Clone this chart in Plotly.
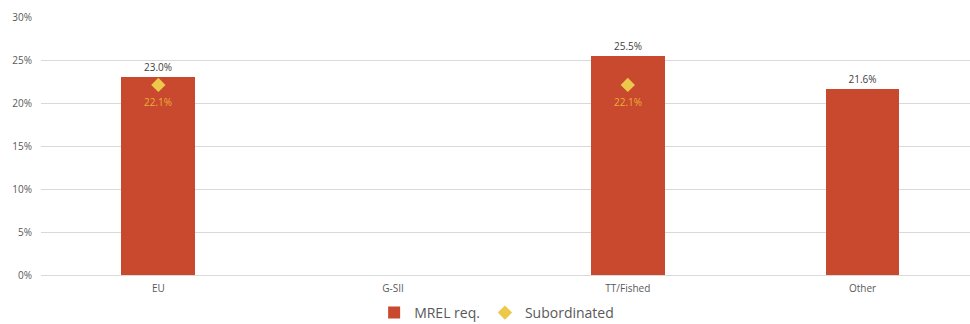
import plotly.graph_objects as go

categories = ["EU", "G-SII", "TT/Fished", "Other"]
mrel_req = [0.230, None, 0.255, 0.216]
subordinated = [0.221, None, 0.221, None]

FONT = "Open Sans"
TEXT_GREY = "#595959"
BAR_RED = "#C8492D"
DIAMOND_YELLOW = "#EDC94B"
LABEL_ORANGE = "#EDAE3A"

fig = go.Figure()

fig.add_trace(go.Bar(
    x=categories,
    y=mrel_req,
    name="MREL req.",
    marker=dict(color=BAR_RED, line=dict(width=0)),
    width=0.315,
    text=[None if v is None else f"{v*100:.1f}%" for v in mrel_req],
    textposition="outside",
    textfont=dict(family=FONT, size=10, color="#404040"),
    cliponaxis=False,
))

fig.add_trace(go.Scatter(
    x=categories,
    y=subordinated,
    name="Subordinated",
    mode="markers",
    marker=dict(symbol="diamond", size=11, color=DIAMOND_YELLOW),
))

# value labels beneath the subordinated diamonds
for cat, v in zip(categories, subordinated):
    if v is None:
        continue
    fig.add_annotation(
        x=cat, y=v, text=f"{v*100:.1f}%",
        showarrow=False, yshift=-17,
        font=dict(family=FONT, size=10, color=LABEL_ORANGE),
    )

fig.update_layout(
    width=970,
    height=324,
    margin=dict(l=41, r=0, t=17, b=49, autoexpand=False),
    plot_bgcolor="white",
    paper_bgcolor="white",
    font=dict(family=FONT, size=10, color=TEXT_GREY),
    showlegend=True,
    legend=dict(
        orientation="h",
        x=0.512, xref="container", xanchor="center",
        y=11 / 324, yref="container", yanchor="middle",
        font=dict(family=FONT, size=14, color=TEXT_GREY),
        itemwidth=30,
        tracegroupgap=0,
    ),
    bargap=0,
)

fig.update_xaxes(
    type="category",
    range=[-0.5, 3.458],
    showgrid=False,
    showline=False,
    ticks="",
    ticklabelstandoff=6,
    tickfont=dict(family=FONT, size=10, color=TEXT_GREY),
)

fig.update_yaxes(
    range=[0, 0.30],
    dtick=0.05,
    tickformat=".0%",
    showgrid=True,
    gridcolor="#D9D9D9",
    gridwidth=1,
    zeroline=True,
    zerolinecolor="#D9D9D9",
    zerolinewidth=1,
    showline=False,
    ticks="",
    ticklen=0,
    ticklabelstandoff=8,
    tickfont=dict(family=FONT, size=10, color=TEXT_GREY),
)

fig.write_html("out.html")
